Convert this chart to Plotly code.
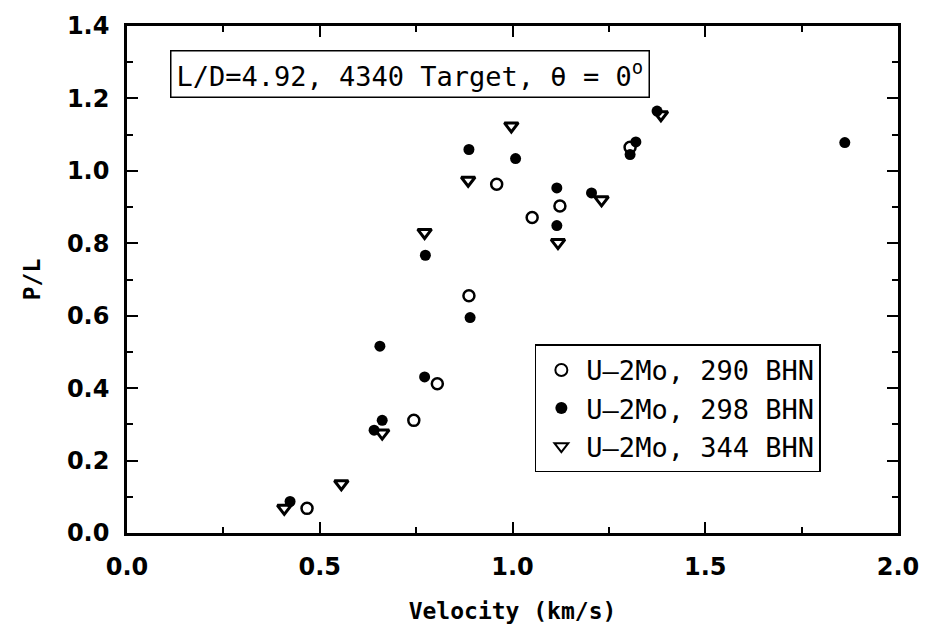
import plotly.graph_objects as go

# Penetration depth normalised by rod length vs. impact velocity
v_290 = [0.467, 0.744, 0.805, 0.887, 0.959, 1.051, 1.123, 1.305]
pl_290 = [0.068, 0.311, 0.412, 0.655, 0.963, 0.871, 0.903, 1.065]

v_298 = [0.423, 0.641, 0.662, 0.656, 0.772, 0.774, 0.890, 0.887, 1.008,
         1.115, 1.115, 1.205, 1.305, 1.320, 1.375, 1.862]
pl_298 = [0.087, 0.284, 0.311, 0.516, 0.431, 0.767, 0.595, 1.059, 1.034,
          0.953, 0.849, 0.939, 1.045, 1.080, 1.165, 1.078]

v_344 = [0.408, 0.556, 0.662, 0.772, 0.885, 0.997, 1.118, 1.231, 1.385]
pl_344 = [0.068, 0.136, 0.276, 0.830, 0.974, 1.124, 0.802, 0.920, 1.155]

series_names = ["U\u20132Mo, 290 BHN", "U\u20132Mo, 298 BHN", "U\u20132Mo, 344 BHN"]
x_ticks = [0.0, 0.5, 1.0, 1.5, 2.0]
y_ticks = [0.0, 0.2, 0.4, 0.6, 0.8, 1.0, 1.2, 1.4]

fig = go.Figure()
fig.add_trace(go.Scatter(
    x=v_290, y=pl_290, mode="markers", name=series_names[0],
    marker=dict(symbol="circle-open", size=11, color="black",
                line=dict(width=2.5, color="black"))))
fig.add_trace(go.Scatter(
    x=v_298, y=pl_298, mode="markers", name=series_names[1],
    marker=dict(symbol="circle", size=11, color="black")))
fig.add_trace(go.Scatter(
    x=v_344, y=pl_344, mode="markers", name=series_names[2],
    marker=dict(symbol="triangle-down-open", size=12, color="black",
                line=dict(width=3, color="black"))))

tick_font = dict(family="DejaVu Sans", size=24, color="black")
title_font = dict(family="DejaVu Sans Mono", size=23, color="black")
axis_common = dict(
    showgrid=False, zeroline=False, showline=True, linecolor="black",
    linewidth=2.5, mirror="allticks", ticks="inside", ticklen=11,
    tickwidth=2, tickcolor="black", tickfont=tick_font, ticklabelstandoff=10,
)

fig.update_xaxes(
    range=[0, 2.0], tickvals=x_ticks, ticktext=[f"<b>{t:.1f}</b>" for t in x_ticks],
    minor=dict(dtick=0.25, ticks="inside", ticklen=6, tickwidth=1.5, tickcolor="black"),
    title=dict(text="<b>Velocity (km/s)</b>", standoff=24, font=title_font),
    **axis_common)
fig.update_yaxes(
    range=[0, 1.4], tickvals=y_ticks, ticktext=[f"<b>{t:.1f}</b>" for t in y_ticks],
    minor=dict(dtick=0.1, ticks="inside", ticklen=6, tickwidth=1.5, tickcolor="black"),
    title=dict(text="<b>P/L</b>", standoff=20, font=title_font),
    **axis_common)

fig.add_annotation(
    xref="paper", yref="paper", x=0.056, y=0.953, xanchor="left", yanchor="top",
    text="L/D=4.92, 4340 Target, \u03b8 = 0<sup>o</sup>", showarrow=False,
    font=dict(family="DejaVu Sans Mono", size=27, color="black"),
    bordercolor="black", borderwidth=1.5, borderpad=5, bgcolor="white")

fig.update_layout(
    width=931, height=636,
    margin=dict(l=127, r=24, t=20, b=103),
    paper_bgcolor="white", plot_bgcolor="white",
    legend=dict(
        x=0.529, y=0.372, xanchor="left", yanchor="top",
        bordercolor="black", borderwidth=1.5, bgcolor="white",
        font=dict(family="DejaVu Sans Mono", size=27, color="black"),
        itemsizing="constant", itemwidth=40,
    ),
)

fig.write_html("out.html")
